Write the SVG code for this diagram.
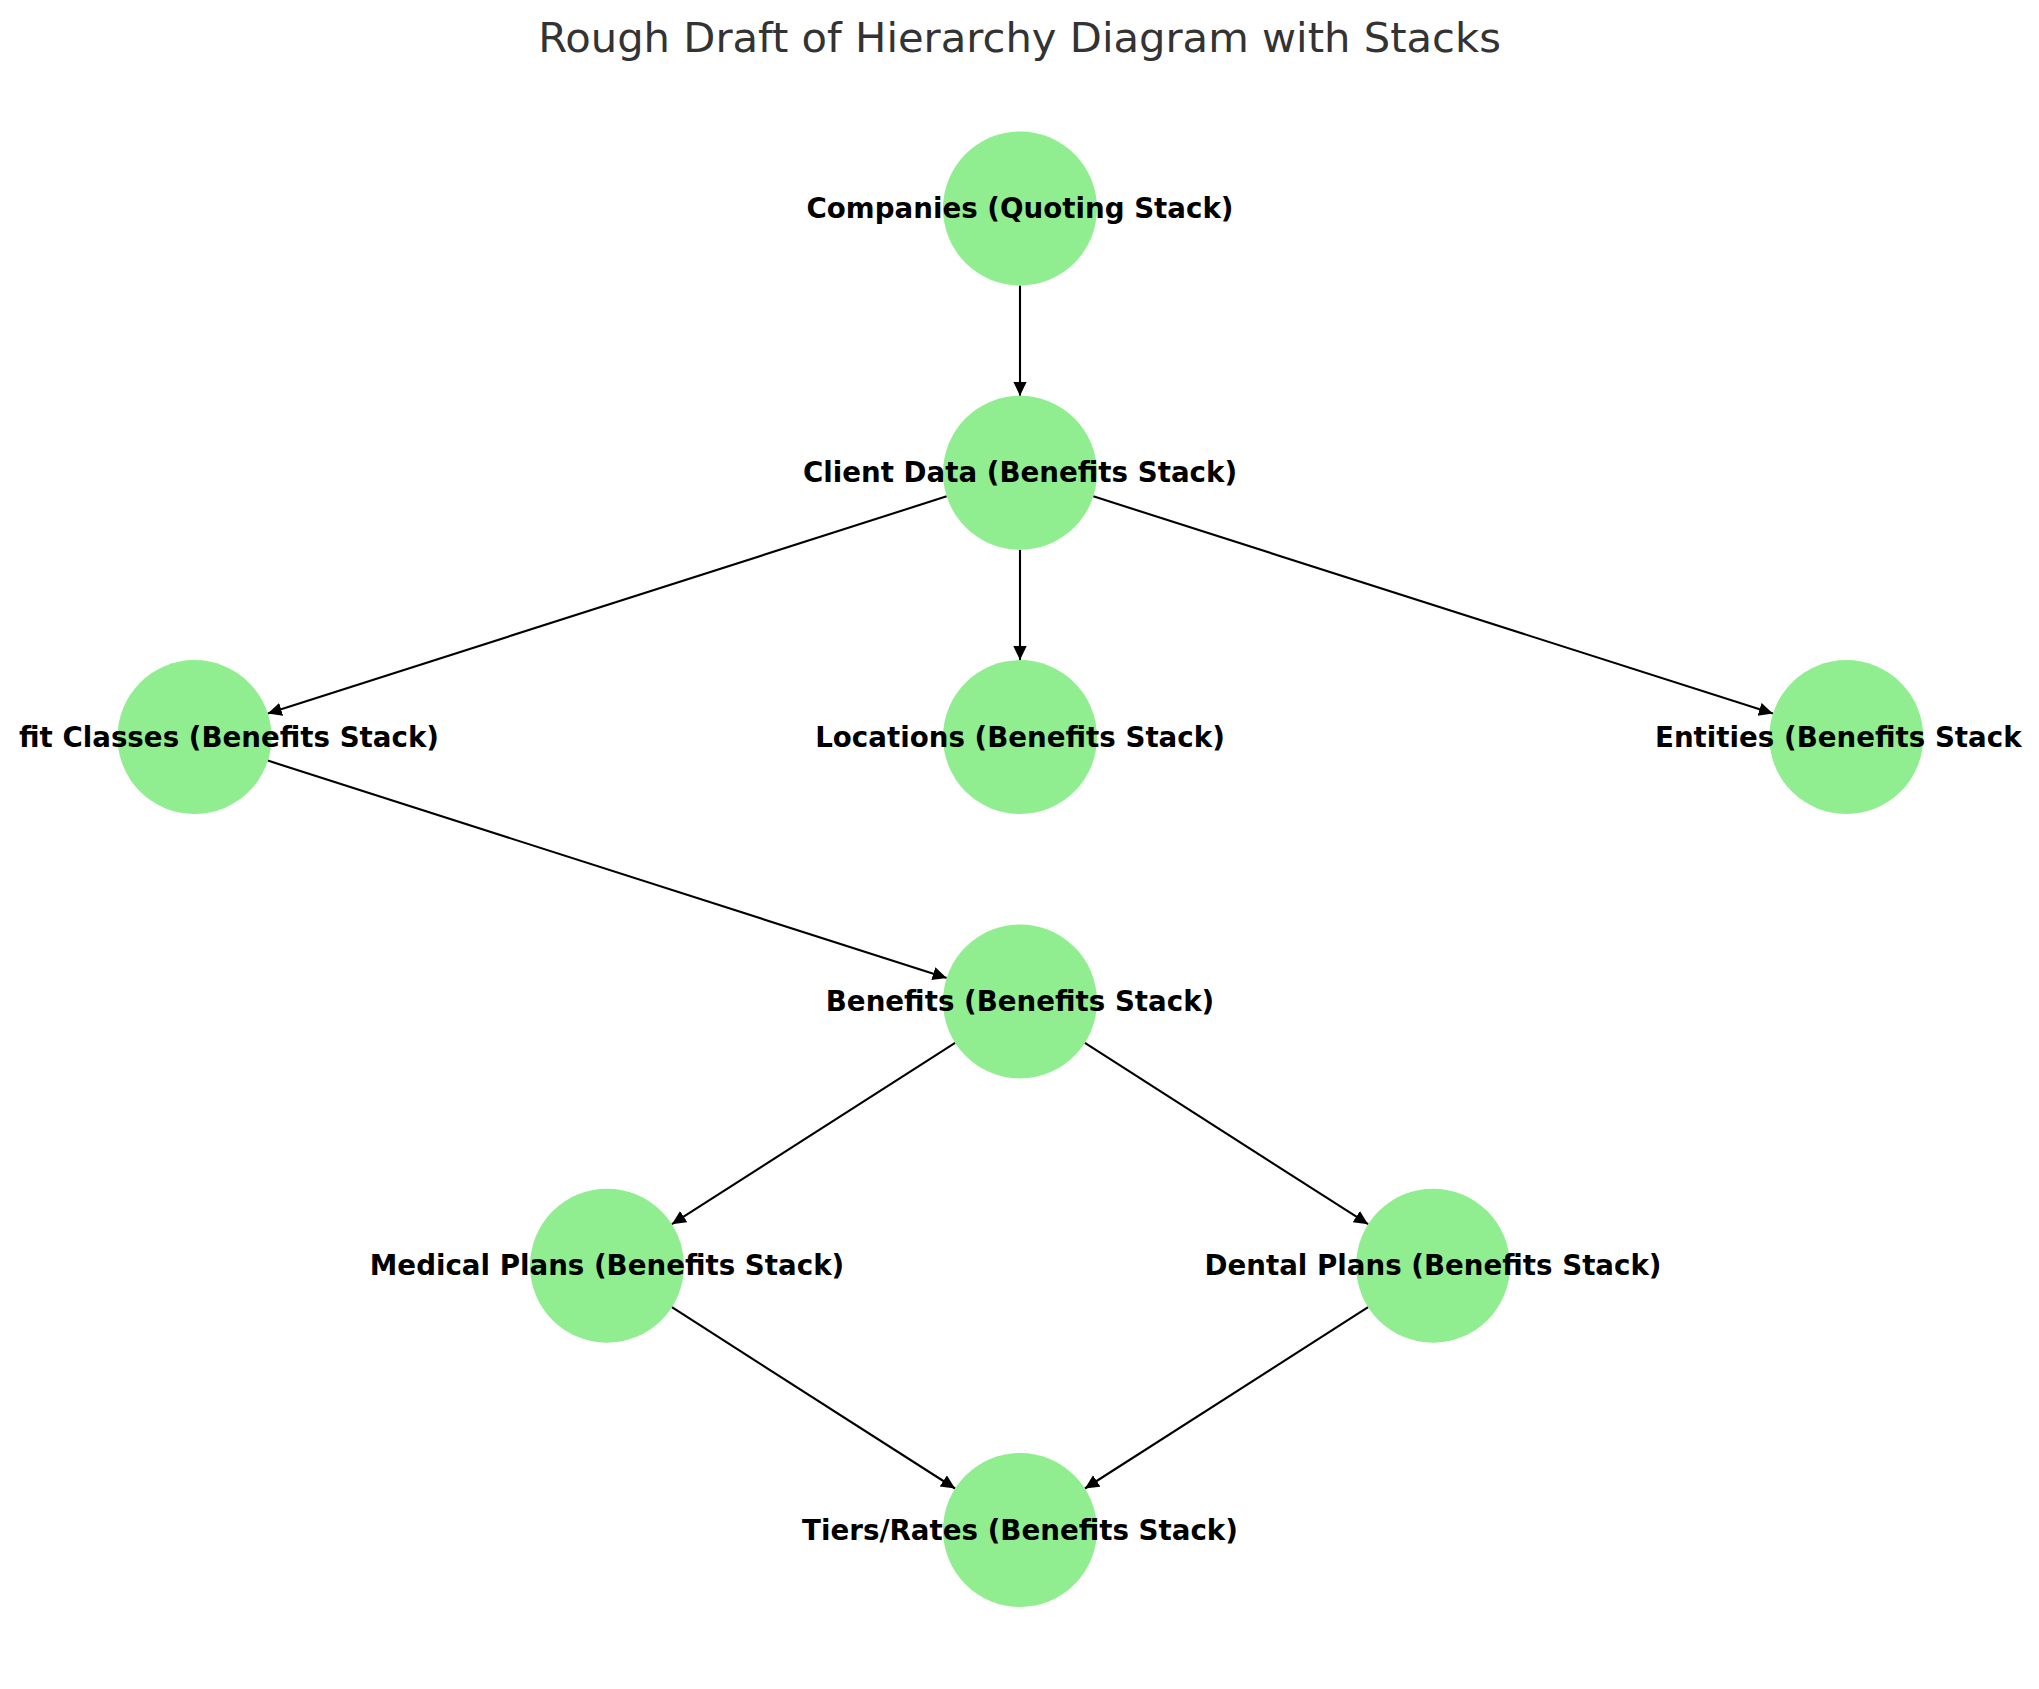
<svg xmlns="http://www.w3.org/2000/svg" width="2039" height="1689" viewBox="0 0 2039 1689">
<defs>
<style>
.edge{stroke:#000;stroke-width:2.1;fill:none;marker-end:url(#ah)}
.node circle{fill:#90ee90}
.node text{font-family:"DejaVu Sans",sans-serif;font-weight:bold;font-size:27.7px;fill:#000;text-anchor:middle;dominant-baseline:central}
.node text.left{text-anchor:start}
.title{font-family:"DejaVu Sans",sans-serif;font-size:41.7px;fill:#333;text-anchor:middle}
</style>
<marker id="ah" markerUnits="userSpaceOnUse" markerWidth="16" markerHeight="16" refX="14" refY="6.7" orient="auto">
<path d="M0,0 L14,6.7 L0,13.4 z" fill="#000"/>
</marker>
</defs>
<rect width="2039" height="1689" fill="#fff"/>
<text class="title" x="1019.5" y="52">Rough Draft of Hierarchy Diagram with Stacks</text>
<g id="edges">
<line class="edge" x1="1020" y1="285.5" x2="1020" y2="395.8"/>
<line class="edge" x1="946.7" y1="496.3" x2="267.8" y2="713.6"/>
<line class="edge" x1="1020" y1="549.8" x2="1020" y2="660.1"/>
<line class="edge" x1="1093.3" y1="496.3" x2="1772.9" y2="713.6"/>
<line class="edge" x1="267.8" y1="760.6" x2="946.7" y2="977.9"/>
<line class="edge" x1="955.1" y1="1042.9" x2="671.9" y2="1224.2"/>
<line class="edge" x1="1084.9" y1="1042.9" x2="1368.1" y2="1224.2"/>
<line class="edge" x1="671.9" y1="1307.2" x2="955.1" y2="1488.5"/>
<line class="edge" x1="1368.1" y1="1307.2" x2="1084.9" y2="1488.5"/>
</g>
<g id="companies" class="node"><circle cx="1020" cy="208.5" r="77"/><text x="1020" y="208.5">Companies (Quoting Stack)</text></g>
<g id="client-data" class="node"><circle cx="1020" cy="472.8" r="77"/><text x="1020" y="472.8">Client Data (Benefits Stack)</text></g>
<g id="benefit-classes" class="node"><circle cx="194.5" cy="737.1" r="77"/><text class="left" x="19" y="737.1">fit Classes (Benefits Stack)</text></g>
<g id="locations" class="node"><circle cx="1020" cy="737.1" r="77"/><text x="1020" y="737.1">Locations (Benefits Stack)</text></g>
<g id="entities" class="node"><circle cx="1846.3" cy="737.1" r="77"/><text class="left" x="1655" y="737.1">Entities (Benefits Stack</text></g>
<g id="benefits" class="node"><circle cx="1020" cy="1001.4" r="77"/><text x="1020" y="1001.4">Benefits (Benefits Stack)</text></g>
<g id="medical-plans" class="node"><circle cx="607" cy="1265.7" r="77"/><text x="607" y="1265.7">Medical Plans (Benefits Stack)</text></g>
<g id="dental-plans" class="node"><circle cx="1433" cy="1265.7" r="77"/><text x="1433" y="1265.7">Dental Plans (Benefits Stack)</text></g>
<g id="tiers-rates" class="node"><circle cx="1020" cy="1530" r="77"/><text x="1020" y="1530">Tiers/Rates (Benefits Stack)</text></g>
</svg>
